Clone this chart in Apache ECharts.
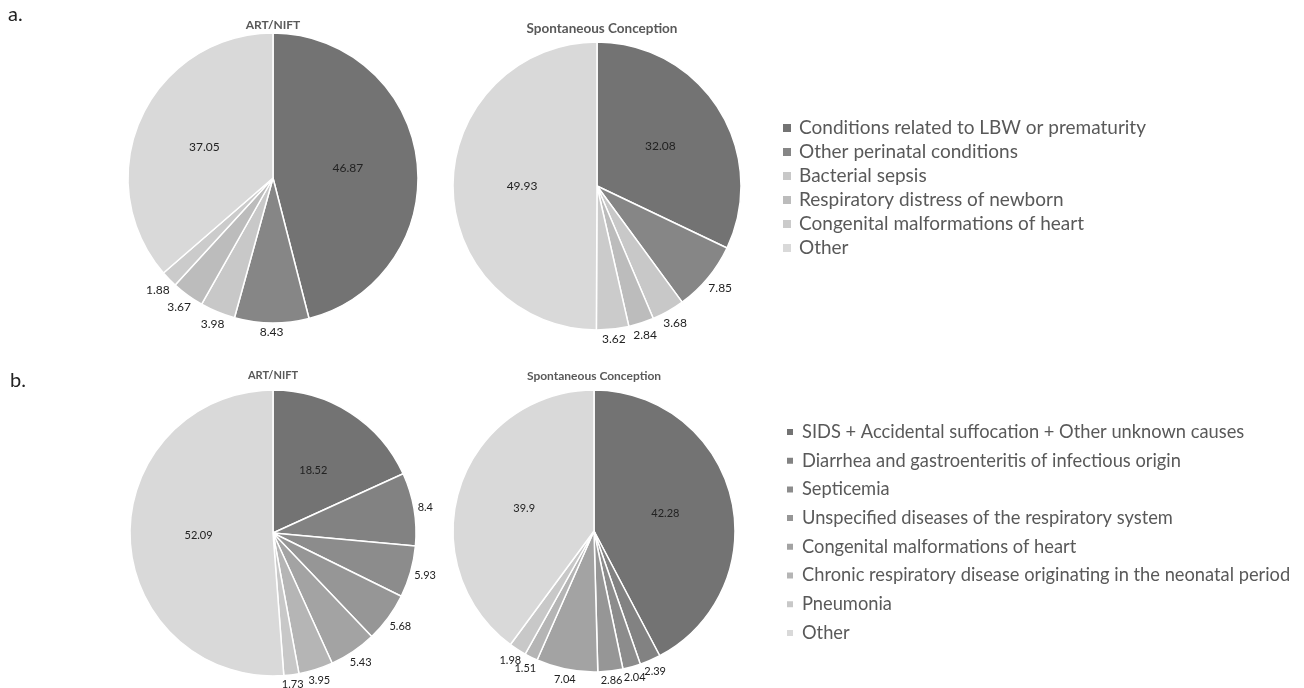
<!DOCTYPE html>
<html><head><meta charset="utf-8">
<script src="https://cdn.jsdelivr.net/npm/echarts@6/dist/echarts.min.js"></script>
<style>html,body{margin:0;padding:0;background:#fff}#c{width:1304px;height:688px}</style>
</head><body><div id="c"></div>
<script>
const namesA = ['Conditions related to LBW or prematurity','Other perinatal conditions','Bacterial sepsis','Respiratory distress of newborn','Congenital malformations of heart','Other'];
const artA = [46.87, 8.43, 3.98, 3.67, 1.88, 37.05];
const spoA = [32.08, 7.85, 3.68, 2.84, 3.62, 49.93];
const colorsA = ['#737373','#868686','#c8c8c8','#bcbcbc','#cbcbcb','#d9d9d9'];

const namesB = ['SIDS + Accidental suffocation + Other unknown causes','Diarrhea and gastroenteritis of infectious origin','Septicemia','Unspecified diseases of the respiratory system','Congenital malformations of heart','Chronic respiratory disease originating in the neonatal period','Pneumonia','Other'];
const artB = [18.52, 8.4, 5.93, 5.68, 5.43, 3.95, 1.73, 52.09];
const spoB = [42.28, 2.39, 2.04, 2.86, 7.04, 1.51, 1.98, 39.9];
const colorsB = ['#737373','#828282','#8c8c8c','#969696','#a3a3a3','#b5b5b5','#c8c8c8','#d9d9d9'];

const titlesText = ['ART/NIFT','Spontaneous Conception'];
const panelLabels = ['a.','b.'];

const FONT = 'Lato';
const chart = echarts.init(document.getElementById('c'));

function excelLabel(p) {
  const pts = p.labelLinePoints;
  if (!pts || pts.length < 2) return {};
  const x0 = pts[0][0], y0 = pts[0][1], x1 = pts[1][0], y1 = pts[1][1];
  let ux = x1 - x0, uy = y1 - y0;
  const L = Math.hypot(ux, uy) || 1; ux /= L; uy /= L;
  const w = p.labelRect.width, h = p.labelRect.height;
  const d = Math.abs(ux) * w / 2 + Math.abs(uy) * h / 2;
  return { x: x1 + ux * d, y: y1 + uy * d, align: 'center', verticalAlign: 'middle' };
}

function pie(values, names, colors, center, radius, fs) {
  return {
    type: 'pie', center: center, radius: radius, startAngle: 90, clockwise: true,
    avoidLabelOverlap: false, silent: true,
    itemStyle: { borderColor: '#fff', borderWidth: 1.5 },
    labelLayout: excelLabel,
    data: values.map((v, i) => {
      const inside = v >= 10;
      return {
        name: names[i], value: v,
        itemStyle: { color: colors[i] },
        label: { show: true, position: inside ? 'inside' : 'outside', formatter: '{c}',
          color: '#222', fontFamily: FONT, fontSize: fs },
        labelLine: { show: !inside, length: 3, length2: 0, lineStyle: { opacity: 0 } }
      };
    })
  };
}

const ts = (s) => ({ fontFamily: FONT, fontSize: s, fontWeight: 'bold', color: '#595959' });
const panelStyle = { fontFamily: FONT, fontSize: 20, fontWeight: 'normal', color: '#222' };

const option = {
  animation: false,
  title: [
    { text: titlesText[0], left: 273, top: 19, textAlign: 'center', padding: 0, textStyle: ts(12) },
    { text: titlesText[1], left: 602, top: 22, textAlign: 'center', padding: 0, textStyle: ts(13.5) },
    { text: titlesText[0], left: 273, top: 370, textAlign: 'center', padding: 0, textStyle: ts(11) },
    { text: titlesText[1], left: 594, top: 370, textAlign: 'center', padding: 0, textStyle: ts(12) },
    { text: panelLabels[0], left: 8, top: 5, padding: 0, textStyle: panelStyle },
    { text: panelLabels[1], left: 10, top: 371, padding: 0, textStyle: panelStyle }
  ],
  legend: [
    {
      orient: 'vertical', left: 781, top: 118, padding: 0, icon: 'rect', itemWidth: 10, itemHeight: 10,
      itemGap: 4, selectedMode: false,
      textStyle: { fontFamily: FONT, fontSize: 19, color: '#595959', lineHeight: 20, padding: [0, 0, 0, 2] },
      data: namesA.map((n, i) => ({ name: n, itemStyle: { color: colorsA[i] } }))
    },
    {
      orient: 'vertical', left: 785, top: 423, padding: 0, icon: 'rect', itemWidth: 8, itemHeight: 8,
      itemGap: 10.7, selectedMode: false,
      textStyle: { fontFamily: FONT, fontSize: 18.3, color: '#595959', lineHeight: 18, padding: [0, 0, 0, 3] },
      data: namesB.map((n, i) => ({ name: n, itemStyle: { color: colorsB[i] } }))
    }
  ],
  series: [
    pie(artA, namesA, colorsA, [273, 178], 145, 12),
    pie(spoA, namesA, colorsA, [597, 186], 144, 12),
    pie(artB, namesB, colorsB, [273, 533], 143, 11),
    pie(spoB, namesB, colorsB, [594, 531], 141, 11)
  ]
};
chart.setOption(option);
</script>
</body></html>
